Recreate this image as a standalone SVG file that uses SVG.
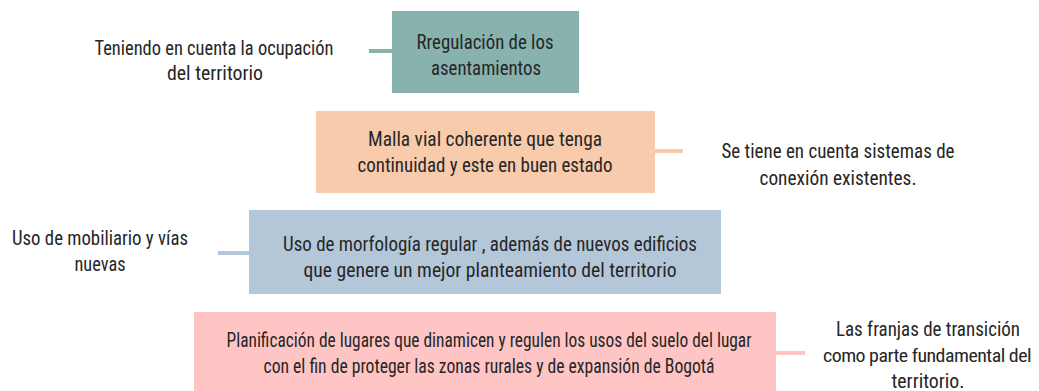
<svg xmlns="http://www.w3.org/2000/svg" width="1039" height="391" viewBox="0 0 1039 391">
<style>
text{font-family:Roboto,"Open Sans","DejaVu Sans Condensed",sans-serif;font-stretch:75%;font-size:20px;fill:#262626;text-anchor:middle}
.c{stroke-width:4;fill:none}
</style>
<rect width="1039" height="391" fill="#ffffff"/>
<g id="connectors">
<line class="c" x1="369" y1="51" x2="393" y2="51" stroke="#88B2AE"/>
<line class="c" x1="654" y1="151" x2="683" y2="151" stroke="#F8CBAD"/>
<line class="c" x1="218" y1="253" x2="250" y2="253" stroke="#B4C7D9"/>
<line class="c" x1="776" y1="353" x2="805" y2="353" stroke="#FFC5C5"/>
</g>
<g id="node1">
<rect x="392" y="11" width="187" height="82" fill="#88B2AE"/>
<text x="485" y="49" textLength="137" lengthAdjust="spacingAndGlyphs">Rregulación de los</text>
<text x="486" y="75" textLength="110" lengthAdjust="spacingAndGlyphs">asentamientos</text>
</g>
<g id="label1">
<text x="214" y="55" textLength="239" lengthAdjust="spacingAndGlyphs">Teniendo en cuenta la ocupación</text>
<text x="215" y="80" textLength="96" lengthAdjust="spacingAndGlyphs">del territorio</text>
</g>
<g id="node2">
<rect x="316" y="111" width="339" height="82" fill="#F8CBAD"/>
<text x="485" y="146" textLength="234" lengthAdjust="spacingAndGlyphs">Malla vial coherente que tenga</text>
<text x="485" y="172" textLength="255" lengthAdjust="spacingAndGlyphs">continuidad  y este en buen estado</text>
</g>
<g id="label2">
<text x="838" y="158" textLength="233" lengthAdjust="spacingAndGlyphs">Se tiene en cuenta sistemas de</text>
<text x="838" y="185" textLength="157" lengthAdjust="spacingAndGlyphs">conexión  existentes.</text>
</g>
<g id="node3">
<rect x="249" y="210" width="472" height="84" fill="#B4C7D9"/>
<text x="490" y="251" textLength="414" lengthAdjust="spacingAndGlyphs">Uso de  morfología regular , además de nuevos edificios</text>
<text x="490" y="277" textLength="373" lengthAdjust="spacingAndGlyphs">que genere un  mejor planteamiento del territorio</text>
</g>
<g id="label3">
<text x="100" y="245" textLength="176" lengthAdjust="spacingAndGlyphs">Uso de mobiliario y vías</text>
<text x="100" y="271" textLength="51" lengthAdjust="spacingAndGlyphs">nuevas</text>
</g>
<g id="node4">
<rect x="194" y="312" width="582" height="79" fill="#FFC5C5"/>
<text x="489" y="347" textLength="525" lengthAdjust="spacingAndGlyphs">Planificación de lugares que dinamicen y regulen los usos del suelo del lugar</text>
<text x="489" y="373" textLength="451" lengthAdjust="spacingAndGlyphs">con el fin de proteger las zonas rurales  y de expansión de Bogotá</text>
</g>
<g id="label4">
<text x="928" y="336" textLength="184" lengthAdjust="spacingAndGlyphs">Las franjas de transición</text>
<text x="927" y="362" textLength="208" lengthAdjust="spacingAndGlyphs" style="font-size:19px;letter-spacing:-0.5px">como parte fundamental del</text>
<text x="928" y="388" textLength="73" lengthAdjust="spacingAndGlyphs">territorio.</text>
</g>
</svg>
